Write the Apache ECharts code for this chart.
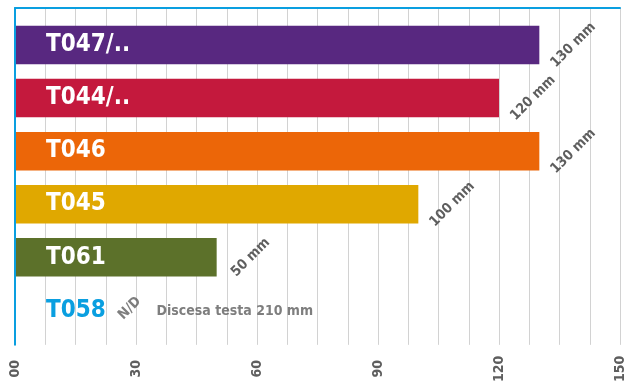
<!DOCTYPE html>
<html>
<head>
<meta charset="utf-8">
<script src="https://cdn.jsdelivr.net/npm/echarts@6/dist/echarts.min.js"></script>
<style>
  html, body { margin: 0; padding: 0; background: #ffffff; }
  #chart { width: 628px; height: 385px; }
</style>
</head>
<body>
<div id="chart"></div>
<script>
// Stroke lengths per model (mm); null = not available
const categories = ['T047/..', 'T044/..', 'T046', 'T045', 'T061', 'T058'];
const lengths = [130, 120, 130, 100, 50, null];
const barColors = ['#582880', '#c4193d', '#ec6608', '#e0a800', '#5c712a', '#0a9fe0'];
const nameColors = ['#ffffff', '#ffffff', '#ffffff', '#ffffff', '#ffffff', '#0a9fe0'];
const tickValues = [0, 30, 60, 90, 120, 150];
const tickLabels = ['00', '30', '60', '90', '120', '150'];
// Notes written in the T058 row
const noteCategory = 'T058';
const noteValues = [29, 54.5];
const noteTexts = ['N/D', 'Discesa testa 210 mm'];

const FONT = '"DejaVu Sans Condensed", "DejaVu Sans", sans-serif';
const GRAY = '#5e5e5e';
const BLUE = '#0a9fe0';

const chart = echarts.init(document.getElementById('chart'), null, { renderer: 'canvas' });

const barData = lengths.map((v, i) => ({
  value: v,
  itemStyle: { color: barColors[i] }
}));

const noteData = noteValues.map((x, i) => ({
  value: [x, noteCategory],
  label: i === 0
    ? { formatter: noteTexts[i], rotate: 45, offset: [0, -3] }
    : { formatter: noteTexts[i], rotate: 0, offset: [0, 1] }
}));

chart.setOption({
  animation: false,
  backgroundColor: '#ffffff',
  grid: [
    { left: 15, right: 8, top: 8, bottom: 39 },      // frame + value grid
    { left: 15, right: 8, top: 18.4, bottom: 48 }    // bars
  ],
  xAxis: [
    {
      gridIndex: 0, type: 'value', min: 0, max: 150, interval: 30, position: 'bottom',
      axisLine: { show: false }, axisTick: { show: false },
      splitLine: { show: true, lineStyle: { color: '#d2d2d2', width: 1 } },
      minorTick: { show: false, splitNumber: 4 },
      minorSplitLine: { show: true, lineStyle: { color: '#d2d2d2', width: 1 } },
      axisLabel: {
        rotate: 90, margin: 24, align: 'center', verticalAlign: 'middle',
        color: GRAY, fontFamily: FONT, fontWeight: 'bold', fontSize: 14,
        formatter: v => { const k = tickValues.indexOf(v); return k >= 0 ? tickLabels[k] : ''; }
      }
    },
    {
      gridIndex: 0, type: 'value', min: 0, max: 150, position: 'top',
      axisLine: { show: true, onZero: false, lineStyle: { color: BLUE, width: 2 } },
      axisTick: { show: false }, axisLabel: { show: false }, splitLine: { show: false }
    },
    {
      gridIndex: 1, type: 'value', min: 0, max: 150, show: false
    }
  ],
  yAxis: [
    {
      gridIndex: 0, type: 'value', min: 0, max: 1,
      axisLine: { show: true, onZero: false, lineStyle: { color: BLUE, width: 2 } },
      axisTick: { show: false }, axisLabel: { show: false }, splitLine: { show: false },
      z: 10
    },
    {
      gridIndex: 1, type: 'category', data: categories, inverse: true,
      axisLine: { show: false }, axisTick: { show: false }, splitLine: { show: false },
      axisLabel: {
        inside: true, margin: 31, fontFamily: FONT, fontWeight: 'bold', fontSize: 24,
        color: (val) => nameColors[categories.indexOf(val)]
      },
      z: 10
    }
  ],
  series: [
    {
      type: 'bar', xAxisIndex: 2, yAxisIndex: 1,
      data: barData, barCategoryGap: '27.5%',
      label: {
        show: true, position: 'right', distance: 34, rotate: 45,
        align: 'center', verticalAlign: 'middle',
        color: GRAY, fontFamily: FONT, fontWeight: 'bold', fontSize: 14,
        formatter: p => p.value == null ? '' : p.value + ' mm'
      }
    },
    {
      type: 'scatter', xAxisIndex: 2, yAxisIndex: 1,
      symbolSize: 0, data: noteData,
      label: {
        show: true, position: 'inside', align: 'center', verticalAlign: 'middle',
        color: GRAY, fontFamily: FONT, fontWeight: 'bold', fontSize: 14
      }
    }
  ]
});
</script>
</body>
</html>
